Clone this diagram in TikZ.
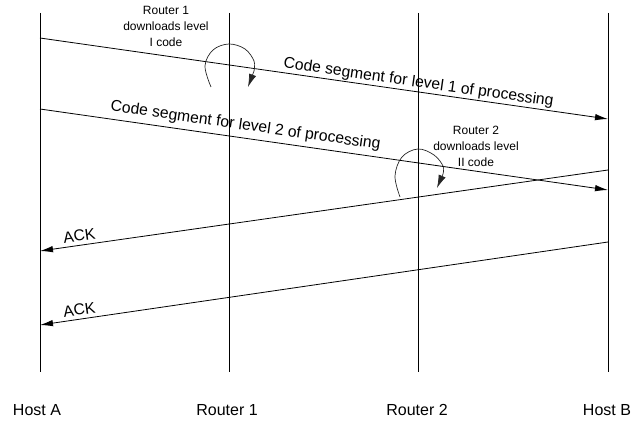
\documentclass[tikz,border=0pt]{standalone}
\usepackage{fontspec}
\setmainfont{Liberation Sans}
\usetikzlibrary{arrows.meta}

\tikzset{
  lifeline/.style={draw=black, line width=0.8pt},
  msg/.style={draw=black, line width=0.8pt, -{Latex[length=13pt,width=6.5pt]}},
  turn/.style={draw=black!85, line width=0.7pt, -{Latex[length=13pt,width=7.5pt]}},
  endlabel/.style={font=\fontsize{16}{19}\selectfont, inner sep=0pt},
  msglabel/.style={font=\fontsize{15.7}{18}\selectfont, inner sep=0pt, anchor=base},
  notelabel/.style={font=\fontsize{12}{16}\selectfont, align=center, inner sep=0pt, anchor=north}
}

\begin{document}
\begin{tikzpicture}[x=1pt, y=-1pt]
  \useasboundingbox (0,0) rectangle (643,422);

  % lifelines
  \coordinate (ha-top) at (40,13);   \coordinate (ha-bot) at (40,372);
  \coordinate (r1-top) at (229,13);  \coordinate (r1-bot) at (229,372);
  \coordinate (r2-top) at (418,13);  \coordinate (r2-bot) at (418,372);
  \coordinate (hb-top) at (608,13);  \coordinate (hb-bot) at (608,372);
  \draw[lifeline] (ha-top) -- (ha-bot);
  \draw[lifeline] (r1-top) -- (r1-bot);
  \draw[lifeline] (r2-top) -- (r2-bot);
  \draw[lifeline] (hb-top) -- (hb-bot);

  % end-point names
  \node[endlabel] (hostA) at (37,410) {Host A};
  \node[endlabel] (router1) at (227,410) {Router 1};
  \node[endlabel] (router2) at (417,410) {Router 2};
  \node[endlabel] (hostB) at (607,410) {Host B};

  % message end points
  \coordinate (m1s) at (40,38);   \coordinate (m1e) at (608,119);
  \coordinate (m2s) at (40,109);  \coordinate (m2e) at (608,190);
  \coordinate (a1s) at (608,170); \coordinate (a1e) at (40,251);
  \coordinate (a2s) at (608,242); \coordinate (a2e) at (40,325);

  \draw[msg] (m1s) -- (m1e);
  \draw[msg] (m2s) -- (m2e);
  \draw[msg] (a1s) -- (a1e);
  \draw[msg] (a2s) -- (a2e);

  \node[msglabel, rotate=-8.1] (lab1) at (418,87) {Code segment for level 1 of processing};
  \node[msglabel, rotate=-8.1] (lab2) at (245,130) {Code segment for level 2 of processing};
  \node[msglabel, rotate=8.1] (ack1) at (80,241) {ACK};
  \node[msglabel, rotate=8.1] (ack2) at (80,315) {ACK};

  % processing at the routers
  \node[notelabel] (note1) at (166,6.4) {Router 1\\downloads level\\I code};
  \node[notelabel] (note2) at (476,126.4) {Router 2\\downloads level\\II code};

  % turning arrows round the router lifelines
  \coordinate (t1s) at (211,87);  \coordinate (t1e) at (248,87);
  \coordinate (t2s) at (400,197); \coordinate (t2e) at (437,188);
  \draw[turn] plot[smooth, tension=0.6] coordinates
      {(t1s) (205,66) (213,50) (229,44) (245,49) (254,61) (254,71)} -- (t1e);
  \draw[turn] plot[smooth, tension=0.6] coordinates
      {(t2s) (395,176) (402,157) (418,149) (434,155) (443,166) (443,174)} -- (t2e);
\end{tikzpicture}
\end{document}
